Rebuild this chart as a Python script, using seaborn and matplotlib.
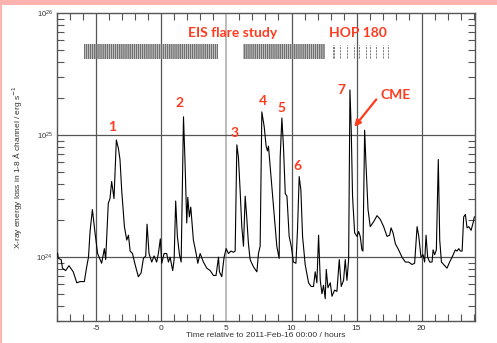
import matplotlib
matplotlib.use("Agg")
import matplotlib.pyplot as plt
import matplotlib.patches as mpatches
from matplotlib.ticker import LogLocator, MultipleLocator, NullFormatter
import numpy as np
import pandas as pd
import seaborn as sns

# GOES-like X-ray curve (hours, log10 erg/s)
hours = [-7.97, -7.92, -7.7, -7.6, -7.36, -7.1, -6.77, -6.5, -6.25, -5.92,
         -5.74, -5.6, -5.48, -5.3, -5.1, -4.9, -4.59, -4.38, -4.28, -4.08,
         -3.95, -3.82, -3.64, -3.46, -3.3, -3.18, -3.05, -2.84, -2.66, -2.53,
         -2.4, -2.22, -2.02, -1.77, -1.56, -1.38, -1.2, -1.1, -0.95, -0.74,
         -0.56, -0.36, -0.23, -0.08, 0.03, 0.21, 0.41, 0.54, 0.67, 0.87,
         0.98, 1.1, 1.23, 1.39, 1.52, 1.7, 1.82, 1.95, 2.03, 2.15,
         2.26, 2.46, 2.67, 2.8, 2.98, 3.23, 3.49, 3.75, 4.0, 4.2,
         4.39, 4.46, 4.64, 4.82, 4.98, 5.15, 5.34, 5.54, 5.67, 5.8,
         5.92, 6.05, 6.18, 6.31, 6.44, 6.57, 6.69, 6.82, 7.08, 7.34,
         7.46, 7.59, 7.72, 7.9, 8.05, 8.15, 8.23, 8.36, 8.62, 8.87,
         9.05, 9.13, 9.26, 9.38, 9.52, 9.65, 9.82, 9.98, 10.15, 10.34,
         10.46, 10.59, 10.72, 10.85, 11.05, 11.31, 11.51, 11.69, 11.82, 11.95,
         12.08, 12.21, 12.34, 12.46, 12.59, 12.67, 12.8, 12.98, 13.11, 13.31,
         13.49, 13.67, 13.82, 14.0, 14.13, 14.26, 14.39, 14.49, 14.59, 14.69,
         14.85, 15.03, 15.16, 15.28, 15.41, 15.49, 15.62, 15.72, 15.88, 16.05,
         16.31, 16.57, 16.82, 17.08, 17.34, 17.54, 17.65, 17.8, 17.98, 18.23,
         18.49, 18.75, 19.0, 19.26, 19.46, 19.65, 19.78, 19.95, 20.11, 20.23,
         20.34, 20.46, 20.62, 20.8, 20.88, 21.0, 21.13, 21.28, 21.39, 21.52,
         21.69, 21.95, 22.15, 22.34, 22.59, 22.72, 22.85, 22.98, 23.11, 23.23,
         23.36, 23.49, 23.62, 23.8, 23.95, 24.05]
log_energy = [24.03, 23.99, 23.98, 23.91, 23.89, 23.93, 23.88, 23.79, 23.80, 23.80,
              23.92, 24.0, 24.21, 24.39, 24.2, 24.03, 23.95, 24.07, 23.98, 24.44,
              24.48, 24.62, 24.48, 24.96, 24.89, 24.8, 24.55, 24.25, 24.14, 24.18,
              24.05, 24.03, 23.94, 23.84, 23.87, 23.99, 24.01, 24.27, 24.03, 23.96,
              24.01, 23.96, 24.03, 24.15, 23.95, 24.03, 24.03, 23.96, 24.0, 23.89,
              23.98, 24.46, 24.17, 24.02, 23.96, 25.15, 24.77, 24.28, 24.49, 24.33,
              24.41, 24.14, 24.03, 23.95, 24.03, 23.96, 23.91, 23.89, 23.85, 23.85,
              24.0, 23.88, 23.84, 24.0, 24.07, 24.03, 24.05, 24.04, 24.05, 24.92,
              24.82, 24.55, 24.25, 24.09, 24.5, 24.31, 24.11, 23.98, 23.92, 23.88,
              24.03, 24.09, 25.19, 25.07, 24.91, 24.87, 24.91, 24.74, 24.41, 24.09,
              23.99, 24.82, 25.14, 24.91, 24.52, 24.5, 24.17, 24.09, 23.96, 23.95,
              24.22, 24.66, 24.55, 24.17, 23.94, 23.79, 23.76, 23.76, 23.88, 23.79,
              24.18, 23.81, 23.70, 23.77, 23.66, 23.90, 23.75, 23.79, 23.68, 23.73,
              23.72, 23.98, 23.76, 23.81, 23.98, 23.81, 23.98, 25.37, 25.04, 24.5,
              24.2, 24.17, 24.21, 24.17, 24.06, 24.05, 25.04, 24.77, 24.39, 24.25,
              24.29, 24.34, 24.31, 24.25, 24.17, 24.18, 24.24, 24.2, 24.11, 24.06,
              24.0, 23.96, 23.96, 23.94, 23.95, 24.25, 24.17, 24.0, 24.02, 23.96,
              24.18, 24.0, 23.96, 23.96, 24.06, 24.02, 24.06, 24.8, 24.14, 23.96,
              23.94, 23.91, 23.96, 24.0, 24.06, 24.05, 24.07, 24.05, 24.05, 24.33,
              24.35, 24.24, 24.25, 24.22, 24.28, 24.33]

# observing programmes
eis_intervals = [(-5.95, 4.36), (6.28, 12.6)]
hop_times = [13.19, 13.29, 13.7, 14.26, 14.77, 15.16, 15.75, 16.05, 16.5, 17.03, 17.38]

# flare labels: (text, hour, log10 energy)
flare_labels = [("1", -3.82, 25.07), ("2", 1.36, 25.26), ("3", 5.59, 25.02),
                ("4", 7.8, 25.28), ("5", 9.26, 25.22), ("6", 10.49, 24.75),
                ("7", 13.82, 25.37)]

df = pd.DataFrame({"hours": hours, "energy": 10 ** np.array(log_energy)})

red = "#ff3b1f"
grey = "#555555"
pink = "#ffb3ae"

plt.rcParams["hatch.linewidth"] = 1.1
plt.rcParams["hatch.color"] = "#707070"

fig = plt.figure(figsize=(4.97, 3.43), dpi=100)
fig.patch.set_facecolor("white")
# pink frame strips (top and left)
fig.patches.append(mpatches.Rectangle((0, 1 - 5 / 343), 1, 5 / 343, transform=fig.transFigure,
                                      facecolor=pink, edgecolor="none"))
fig.patches.append(mpatches.Rectangle((0, 0), 2 / 497, 1, transform=fig.transFigure,
                                      facecolor=pink, edgecolor="none"))
ax = fig.add_axes([57 / 497, 1 - 321 / 343, 418 / 497, 308 / 343])
ax.set_facecolor("white")

ax.set_yscale("log")
ax.set_xlim(-8.02, 24.1)
ax.set_ylim(3e23, 1e26)

# grid lines
for h in [-5, 0, 10, 15, 20]:
    ax.axvline(h, color=grey, lw=0.9, zorder=1)
ax.axvline(5, color="#b0b0b0", lw=1.2, zorder=1)
for v in [1e24, 1e25]:
    ax.axhline(v, color=grey, lw=0.9, zorder=1)

sns.lineplot(data=df, x="hours", y="energy", ax=ax, color="black", lw=0.8,
             estimator=None, sort=False, zorder=3)

# EIS flare study coverage
for start, end in eis_intervals:
    ax.fill_between([start, end], 4.2e25, 5.6e25, facecolor="none", edgecolor="#707070",
                    hatch="|" * 8, lw=0, zorder=2)
ax.vlines(hop_times, 4.3e25, 5.5e25, colors="#444444", lw=0.5, linestyles=(0, (3, 1.5)), zorder=2)

bold = dict(color=red, fontweight="bold", family="Lato", ha="center", va="center")
ax.text(5.48, 10 ** 25.84, "EIS flare study", fontsize=10, **bold)
ax.text(15.09, 10 ** 25.84, "HOP 180", fontsize=10, **bold)
for lab, h, lv in flare_labels:
    ax.text(h, 10 ** lv, lab, fontsize=10, **bold)
ax.text(17.98, 10 ** 25.33, "CME", fontsize=10, **bold)
ax.annotate("", xy=(14.69, 10 ** 25.05), xytext=(16.65, 10 ** 25.31),
            arrowprops=dict(arrowstyle="-|>", color=red, lw=1.6, mutation_scale=9))

# axes styling
for s in ax.spines.values():
    s.set_color(grey)
    s.set_linewidth(1.0)
ax.xaxis.set_major_locator(MultipleLocator(5))
ax.xaxis.set_minor_locator(MultipleLocator(1))
ax.yaxis.set_major_locator(LogLocator(base=10))
ax.yaxis.set_minor_locator(LogLocator(base=10, subs=np.arange(2, 10)))
ax.yaxis.set_minor_formatter(NullFormatter())
ax.tick_params(which="both", direction="in", top=True, right=True, colors=grey,
               labelcolor="#333333", labelsize=6)
ax.tick_params(which="major", length=0, pad=3)
ax.tick_params(which="minor", length=5, width=0.8)
ax.set_xticks([-5, 0, 5, 10, 15, 20])
ax.set_xticklabels(["-5", "0", "5", "10", "15", "20"], family="Liberation Sans")
for lbl in ax.get_yticklabels():
    lbl.set_family("Liberation Sans")
    lbl.set_fontsize(5.5)

ax.set_xlabel("Time relative to 2011-Feb-16 00:00 / hours", family="Liberation Sans",
              fontsize=6, color="#333333", labelpad=0)
ax.set_ylabel("X-ray energy loss in 1-8 Å channel / erg s$^{-1}$", family="Liberation Sans",
              fontsize=6, color="#333333", labelpad=8)

fig.savefig("out.png", dpi=100, facecolor=fig.get_facecolor())
